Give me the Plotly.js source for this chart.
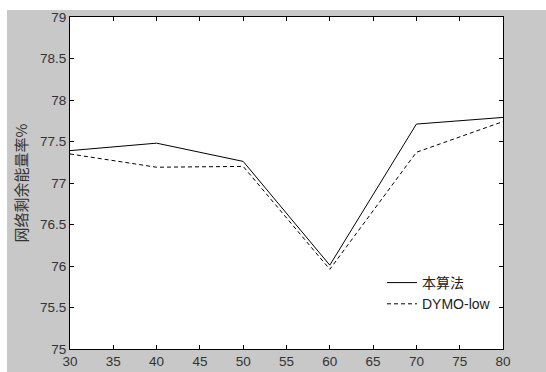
<!DOCTYPE html>
<html>
<head>
<meta charset="utf-8">
<script src="https://cdn.plot.ly/plotly-3.0.1.min.js"></script>
<style>
html,body{margin:0;padding:0;background:#ffffff;width:546px;height:372px;overflow:hidden;}
#chart{position:absolute;left:0;top:0;width:546px;height:372px;}
</style>
</head>
<body>
<div id="chart"></div>
<script>
const nodes = [30, 40, 50, 60, 70, 80];
const ours = [77.39, 77.48, 77.26, 76.01, 77.71, 77.79];
const dymo = [77.35, 77.19, 77.20, 75.96, 77.37, 77.74];
const seriesNames = ['本算法', 'DYMO-low'];
const yTitle = '网络剩余能量率%';

const traces = [
  {x: nodes, y: ours, name: seriesNames[0], mode: 'lines', line: {color: '#000000', width: 1, dash: 'solid'}},
  {x: nodes, y: dymo, name: seriesNames[1], mode: 'lines', line: {color: '#000000', width: 1, dash: '4px,3px'}}
];

const font = {family: 'Liberation Sans, Arial, sans-serif', size: 13.5, color: '#333333'};
const W = 546, H = 372, ml = 70, mr = 43, mt = 17, mb = 23;
const pw = W - ml - mr, ph = H - mt - mb;
const layout = {
  width: W, height: H,
  margin: {l: ml, r: mr, t: mt, b: mb},
  paper_bgcolor: '#c8c8c8',
  plot_bgcolor: '#ffffff',
  font: font,
  showlegend: true,
  legend: {x: (382 - ml) / pw, y: (349 - 267) / ph, xanchor: 'left', yanchor: 'top', bgcolor: 'rgba(255,255,255,0)',
           font: {family: 'Liberation Sans, Noto Sans CJK SC, sans-serif', size: 14, color: '#222'},
           itemwidth: 30, tracegroupgap: 0},
  shapes: [
    {type: 'rect', xref: 'paper', yref: 'paper', x0: -ml / pw - 0.01, x1: 1 + mr / pw + 0.01,
     y0: 1 + (mt - 10) / ph, y1: 1 + mt / ph + 0.01, fillcolor: '#ffffff', line: {width: 0}, layer: 'below'},
    {type: 'rect', xref: 'paper', yref: 'paper', x0: -ml / pw - 0.01, x1: -(ml - 7) / pw,
     y0: -mb / ph - 0.01, y1: 1 + mt / ph + 0.01, fillcolor: '#ffffff', line: {width: 0}, layer: 'below'}
  ],
  xaxis: {range: [30, 80], dtick: 5, tick0: 30, ticks: 'inside', ticklen: 4, tickcolor: '#000',
          showline: true, linecolor: '#000', linewidth: 1, mirror: 'ticks', showgrid: false, zeroline: false,
          tickfont: font},
  yaxis: {range: [75, 79], dtick: 0.5, tick0: 75, ticks: 'inside', ticklen: 4, tickcolor: '#000',
          showline: true, linecolor: '#000', linewidth: 1, mirror: 'ticks', showgrid: false, zeroline: false,
          tickfont: font,
          title: {text: yTitle, standoff: 8, font: {family: 'Noto Sans CJK SC, sans-serif', size: 15, color: '#333'}}}
};
Plotly.newPlot('chart', traces, layout, {displayModeBar: false, staticPlot: true});
</script>
</body>
</html>
